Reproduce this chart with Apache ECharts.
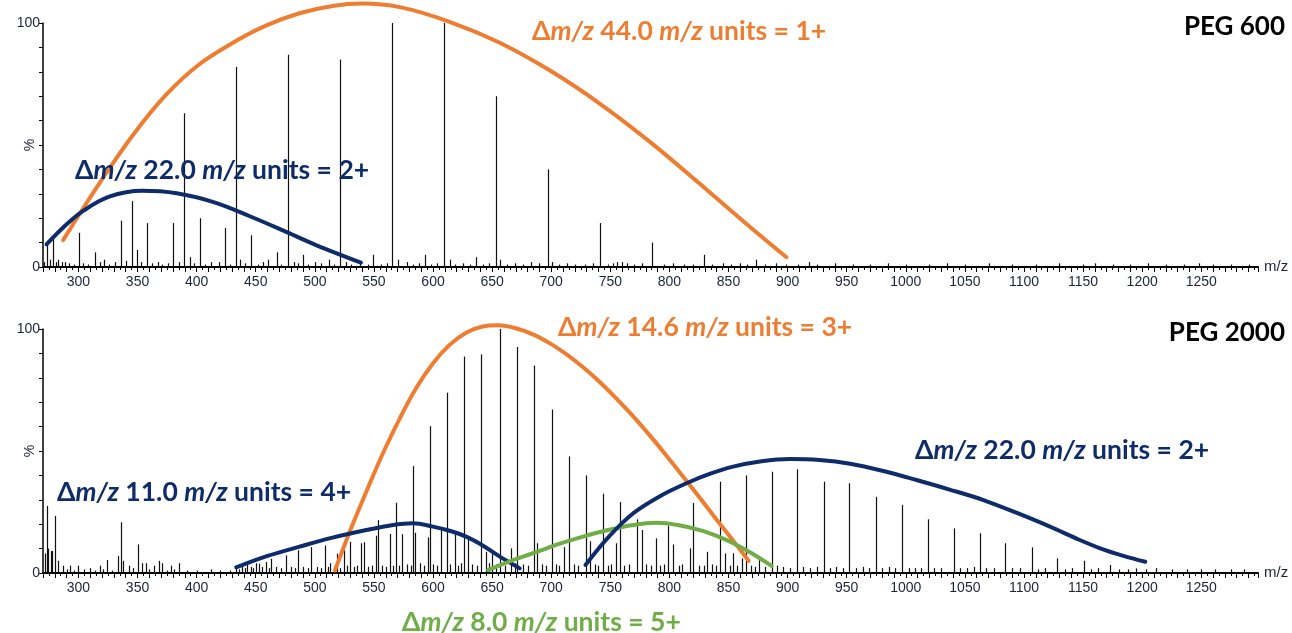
<!DOCTYPE html>
<html>
<head>
<meta charset="utf-8">
<title>PEG 600 / PEG 2000 spectra</title>
<script src="https://cdn.jsdelivr.net/npm/echarts@6/dist/echarts.min.js"></script>
<style>
  html, body { margin: 0; padding: 0; background: #fff; }
  #chart { width: 1292px; height: 633px; }
</style>
</head>
<body>
<div id="chart"></div>
<script>
// ---- data (m/z, relative intensity %) ----
const MZ_MIN = 270;
const MZ_MAX = 1298;

const peg600Peaks = [
  [273.5, 9], [278.7, 12], [283, 3], [289, 2], [300.8, 14], [314.4, 6], [322, 3], [335.6, 19],
  [345.5, 27], [349.4, 7], [358.2, 18], [367, 2], [380.4, 18], [389.2, 63], [394, 4], [402.5, 20],
  [412, 2], [424.2, 16], [433, 82], [437, 3], [446.2, 13], [460, 3], [467.9, 6], [477.2, 87],
  [482, 2], [489.9, 5], [500, 2], [511.9, 3], [521, 85], [526, 2], [549.2, 5], [565, 100],
  [570, 3], [578, 2], [593, 5], [609.3, 100], [614, 3], [636.7, 4], [653, 70], [657, 3],
  [697, 40], [701, 2], [741, 18], [760, 2], [785, 10], [829, 5], [873, 3], [918, 2]
];
const peg600Noise = [
  [271, 2], [276, 3], [281, 2], [286, 2], [292, 1.5], [296, 1], [304, 1.5], [308, 1], [318, 2],
  [326, 1], [331, 2], [340, 2.5], [353, 2], [362, 1.5], [371, 1], [376, 1.5], [385, 2], [398, 1.5],
  [407, 1], [419, 2], [428, 1], [441, 1.5], [452, 1], [456, 2], [471, 1], [486, 1.5], [494, 1],
  [505, 1.5], [516, 1], [531, 1], [538, 1.5], [545, 1], [556, 1], [561, 1.5], [583, 1], [588, 1.5],
  [598, 1], [603, 1.5], [619, 1], [625, 1.5], [631, 1], [642, 1], [647, 1.5], [663, 1], [669, 1.5],
  [676, 1], [683, 2], [690, 1.5], [707, 1], [713, 1.5], [720, 1], [729, 1], [735, 1.5], [748, 1],
  [752, 1.5], [756, 2], [764, 1.5], [770, 1], [777, 1.5], [795, 1], [803, 1.5], [812, 1], [820, 1],
  [836, 1], [845, 1.5], [852, 1], [860, 1.5], [866, 1], [881, 1], [890, 1.5], [899, 1], [909, 1],
  [925, 1], [940, 1.5], [955, 1], [970, 1], [985, 1.5], [1000, 1], [1020, 1], [1035, 1.5], [1050, 1],
  [1070, 1.5], [1090, 1], [1110, 1], [1130, 1.5], [1150, 1], [1160, 1.5], [1175, 1], [1190, 1],
  [1205, 1.5], [1220, 1], [1235, 1], [1248, 1.5], [1260, 1], [1275, 1], [1290, 1]
];

const peg2000Peaks = [
  [271.5, 8], [273.2, 27.5], [274.6, 10], [276.5, 9], [278, 9], [280.3, 23.4], [283, 5], [287, 3],
  [293, 3], [300, 3], [310, 2], [318, 3], [324, 5.3], [333.3, 7], [335.6, 20.8], [338, 5], [343, 3],
  [350.2, 11.7], [354, 4], [357, 4], [364, 3], [368, 5], [371, 4], [378, 3], [385, 4], [412, 1.5],
  [433, 2], [438, 3], [443, 3.5], [446, 2.5], [450, 4], [452.9, 3.8], [458.9, 4.5], [463.2, 5.8],
  [475.3, 7.2], [485.7, 9.3], [497, 10.6], [508.3, 11.3], [513, 4], [518.7, 7.9], [524.4, 9.3],
  [529.5, 12.8], [539.4, 12.2], [541.5, 12.6], [552.1, 15.3], [553.4, 21.7], [563.3, 16], [568.4, 28.8],
  [574, 15.9], [583.1, 43.8], [585, 16.5], [595.8, 14.6], [597.2, 60.2], [607.1, 18], [611.9, 73.9],
  [618.4, 16.9], [626.3, 88.7], [629.7, 15.2], [641, 89.6], [644.6, 8.7], [650.3, 8.3], [656.5, 100],
  [666.3, 10.1], [671.1, 92.6], [685.5, 85], [688, 12.2], [700.3, 67], [710.4, 10.6], [714.9, 47.8],
  [729.3, 40], [732.7, 13], [744, 32.5], [754.4, 12.2], [758.4, 29.1], [773, 22], [777, 17.6],
  [788.4, 14.2], [799, 19.4], [803.3, 11.7], [817.6, 10.1], [820.2, 28.7], [832.2, 8.7], [842.8, 37.4],
  [847, 8], [854, 8.1], [861.1, 6], [864.8, 40], [876, 5.3], [886.6, 41.5], [908.2, 42.5],
  [930.8, 37.4], [952.2, 36.8], [974.6, 31.2], [996.6, 27.9], [1018.6, 22], [1040.4, 18.3],
  [1062.9, 16.3], [1084, 12.2], [1106.7, 10.5], [1128.1, 6], [1150.4, 5], [1172.7, 3.3], [1195, 1.9]
];
const peg2000Noise = [
  [290, 1.5], [296, 1], [305, 1.5], [314, 1], [321, 1.5], [328, 1], [346, 2], [360, 1.5], [375, 1],
  [381, 1.5], [392, 1], [400, 1], [420, 1], [428, 1], [436, 1.5], [441, 2], [448, 2], [455, 2.5],
  [461, 2], [467, 2.5], [471, 2], [480, 2.5], [483, 2], [490, 2.5], [494, 2], [502, 2.5], [505, 2],
  [511, 2.5], [521, 2], [527, 3], [533, 2.5], [536, 3], [545, 2.5], [548, 3], [557, 3], [560, 2.5],
  [566, 3], [571, 3], [578, 3.5], [581, 3], [589, 4], [592, 3], [600, 3.5], [603, 3], [614, 3.5],
  [621, 3], [624, 4], [633, 3.5], [637, 3], [647, 4], [653, 3.5], [661, 3], [669, 4], [676, 3.5],
  [680, 3], [692, 3.5], [696, 3], [704, 3.5], [707, 3], [719, 3.5], [723, 3], [737, 3.5], [740, 3],
  [748, 3], [751, 3.5], [762, 3], [766, 3.5], [780, 3.5], [784, 3], [792, 3], [795, 3.5], [808, 3],
  [811, 3.5], [825, 3], [829, 3], [836, 3.5], [839, 3], [851, 3], [857, 3], [869, 3], [872, 2.5],
  [881, 2.5], [891, 3], [896, 2.5], [902, 2], [913, 2.5], [919, 2], [925, 2.5], [936, 2], [941, 2.5],
  [947, 2], [958, 2], [964, 2.5], [969, 2], [980, 2], [986, 2.5], [991, 2], [1003, 2], [1008, 2],
  [1013, 2], [1024, 2], [1030, 2], [1046, 2], [1052, 2], [1058, 2.5], [1068, 2], [1075, 2],
  [1090, 2], [1097, 2], [1112, 1.5], [1118, 2], [1135, 1.5], [1141, 2], [1157, 1.5], [1163, 2],
  [1180, 1.5], [1188, 1.5], [1203, 1.5], [1212, 2], [1225, 1.5], [1238, 1.5], [1250, 1.5],
  [1262, 1.5], [1275, 1.5], [1286, 1.5]
];

// hand-drawn charge-state envelopes (m/z, %)
const env600_1plus = [
  [287, 11], [300, 21], [318, 34.5], [346, 54], [374, 70.5], [402, 83], [431, 92], [459, 99],
  [487, 104], [515, 107], [540, 108], [572, 106.5], [614, 100.5], [656, 92], [699, 80.5],
  [741, 67], [783, 51.5], [826, 34], [868, 16.5], [899, 4]
];
const env600_2plus = [
  [273, 9.3], [290, 17.5], [304, 23], [326, 28.8], [354, 31.2], [383, 30.2], [415, 26.5],
  [445, 20.8], [473, 15], [501, 9], [539, 1.8]
];
const env2000_3plus = [
  [517, 1], [530, 17.5], [545, 35], [558, 49.5], [572, 63.5], [586, 76], [600, 86], [614, 93.5],
  [628, 98.5], [642, 101], [655, 101.5], [670, 100.3], [685, 97.7], [700, 93.8], [713, 89.6],
  [727, 84.3], [741, 78.3], [755, 71.6], [769, 64.4], [783, 56.6], [797, 48.4], [811, 39.9],
  [826, 30.6], [840, 21.8], [854, 13.2], [867, 5]
];
const env2000_4plus = [
  [433.5, 2.3], [460, 7], [487, 10.8], [515, 14.5], [543.6, 17.6], [565, 19.6], [583, 20.4],
  [600, 19], [614, 17.3], [628, 14.9], [642, 11.3], [656.5, 6.7], [673.4, 1.9]
];
const env2000_5plus = [
  [646.6, 1.2], [665, 4.8], [684.7, 8.1], [706, 11.8], [727, 14.9], [748, 17.6], [769.4, 19.7],
  [789, 20.6], [808, 19.6], [825.8, 17.6], [840, 15.2], [854, 12.2], [870, 8], [886.5, 2.9]
];
const env2000_2plus = [
  [729, 3.3], [749, 15], [769.4, 24.5], [792, 31.5], [814.5, 36.8], [834, 40.6], [854, 43.6],
  [878, 45.8], [902, 46.7], [927, 46.3], [952.8, 44.8], [981, 41.8], [1009, 38.1], [1037, 34.2],
  [1065.7, 29.9], [1094, 24.6], [1122, 19], [1144, 14.2], [1164.5, 10.1], [1184, 7], [1202.6, 4.6]
];

const ORANGE = '#ED7D31';
const NAVY = '#0E2C6A';
const GREEN = '#70AD47';
const AXIS_TXT = '#1e2438';
const FONT = 'Lato, "Noto Sans", sans-serif';

// ---- helpers ----
function stickItem(params, api) {
  const base = api.coord([api.value(0), 0]);
  const top = api.coord([api.value(0), api.value(1)]);
  const x = Math.round(base[0]) + 0.5;
  return {
    type: 'line',
    shape: { x1: x, y1: base[1], x2: x, y2: top[1] },
    style: { stroke: '#111', lineWidth: 1.2 }
  };
}

const sticks = (data, idx) => ({
  type: 'custom', xAxisIndex: idx, yAxisIndex: idx, data,
  renderItem: stickItem, encode: { x: 0, y: 1 }, silent: true, clip: false
});

const envelope = (data, idx, color) => ({
  type: 'line', xAxisIndex: idx, yAxisIndex: idx, data,
  smooth: 0.35, symbol: 'none', clip: false, silent: true, z: 5,
  lineStyle: { color, width: 4, cap: 'round' }
});

const xAxis = (gridIndex) => ({
  type: 'value', gridIndex, min: MZ_MIN, max: MZ_MAX, interval: 10,
  name: 'm/z', nameLocation: 'end', nameGap: 6,
  nameTextStyle: { color: AXIS_TXT, fontSize: 15, fontFamily: 'Liberation Sans, Arial', verticalAlign: 'middle' },
  axisLine: { onZero: false, lineStyle: { color: '#000', width: 2 } },
  axisTick: { length: 5, lineStyle: { color: '#000' } },
  minorTick: { show: true, splitNumber: 2, length: 3, lineStyle: { color: '#000' } },
  splitLine: { show: false },
  axisLabel: {
    color: AXIS_TXT, fontSize: 14, fontFamily: 'Liberation Sans, Arial', margin: 8,
    formatter: (v) => (v % 50 === 0 ? String(v) : '')
  }
});

const yAxis = (gridIndex) => ({
  type: 'value', gridIndex, min: 0, max: 100, interval: 10,
  name: '%', nameLocation: 'middle', nameGap: 6, nameRotate: 90, nameMoveOverlap: false,
  nameTextStyle: { color: AXIS_TXT, fontSize: 14, fontFamily: 'Liberation Sans, Arial' },
  axisLine: { show: true, lineStyle: { color: '#000', width: 1.5 } },
  axisTick: { show: true, length: 4, lineStyle: { color: '#000' } },
  splitLine: { show: false },
  axisLabel: {
    color: AXIS_TXT, fontSize: 14, fontFamily: 'Liberation Sans, Arial', margin: 3,
    formatter: (v) => (v === 0 || v === 100 ? String(v) : '')
  }
});

const rich = (color, size) => ({
  n: { fontFamily: FONT, fontWeight: 'bold', fontSize: size, fill: color, color },
  i: { fontFamily: FONT, fontWeight: 'bold', fontStyle: 'italic', fontSize: size, fill: color, color }
});

const note = (x, y, value, charge, color) => ({
  type: 'text', x, y, z: 10, silent: true,
  style: {
    text: `{n|Δ}{i|m/z}{n| ${value} }{i|m/z}{n| units = ${charge}}`,
    rich: rich(color, 26.5), verticalAlign: 'middle', align: 'left', fill: color
  }
});

const label = (x, y, text) => ({
  type: 'text', x, y, z: 10, silent: true,
  style: {
    text, fontFamily: FONT, fontWeight: 'bold', fontSize: 26, fill: '#000',
    align: 'right', verticalAlign: 'middle'
  }
});

// ---- chart ----
const chart = echarts.init(document.getElementById('chart'), null, { renderer: 'canvas' });

chart.setOption({
  animation: false,
  backgroundColor: '#fff',
  grid: [
    { left: 43, right: 34, top: 23, height: 244, outerBoundsMode: 'none', containLabel: false },
    { left: 43, right: 34, top: 329, height: 244, outerBoundsMode: 'none', containLabel: false }
  ],
  xAxis: [xAxis(0), xAxis(1)],
  yAxis: [yAxis(0), yAxis(1)],
  series: [
    sticks(peg600Noise, 0),
    sticks(peg600Peaks, 0),
    sticks(peg2000Noise, 1),
    sticks(peg2000Peaks, 1),
    envelope(env600_1plus, 0, ORANGE),
    envelope(env600_2plus, 0, NAVY),
    envelope(env2000_3plus, 1, ORANGE),
    envelope(env2000_4plus, 1, NAVY),
    envelope(env2000_5plus, 1, GREEN),
    envelope(env2000_2plus, 1, NAVY)
  ],
  graphic: [
    label(1285, 27, 'PEG 600'),
    label(1285, 333, 'PEG 2000'),
    note(532, 31, '44.0', '1+', ORANGE),
    note(75, 170, '22.0', '2+', NAVY),
    note(558, 327, '14.6', '3+', ORANGE),
    note(57, 492, '11.0', '4+', NAVY),
    note(915, 450, '22.0', '2+', NAVY),
    note(402, 622, '8.0', '5+', GREEN)
  ]
});
</script>
</body>
</html>
